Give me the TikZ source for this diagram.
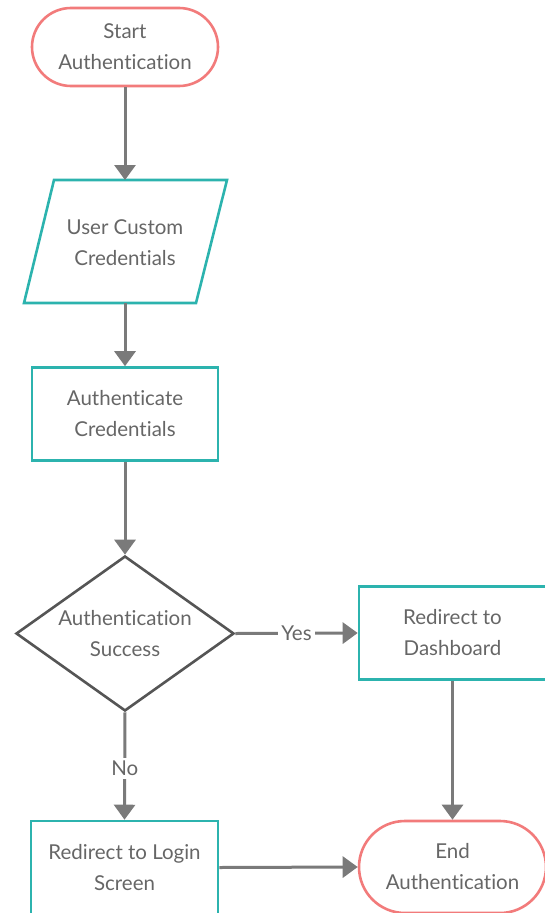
\documentclass[tikz,border=0pt]{standalone}
\usepackage{fontspec}
\setmainfont{Lato}[Ligatures=NoCommon]
\usetikzlibrary{shapes.geometric,arrows.meta}
\definecolor{termred}{HTML}{F27B7B}
\definecolor{procteal}{HTML}{2CB3AE}
\definecolor{flowgray}{HTML}{7A7A7A}
\definecolor{decgray}{HTML}{555555}
\definecolor{txtgray}{HTML}{666666}
\tikzset{
  base/.style={inner sep=0pt, align=center, text=txtgray,
    font=\fontsize{20.5}{31}\selectfont, line width=2.6pt},
  terminal/.style={base, draw=termred, rounded corners=39pt,
    minimum width=186pt, minimum height=78pt},
  process/.style={base, draw=procteal, minimum width=186pt, minimum height=93pt},
  decision/.style={base, draw=decgray, diamond, aspect=1.4,
    minimum width=218pt, minimum height=155pt},
  flow/.style={draw=flowgray, line width=3pt,
    -{Triangle[width=21pt,length=15pt]}},
  flowlabel/.style={fill=white, text=txtgray, inner sep=3pt,
    font=\fontsize{20.5}{24}\selectfont},
}
\begin{document}
\begin{tikzpicture}[x=1pt,y=-1pt]
\useasboundingbox (0,0) rectangle (544,913);

% nodes
\node[terminal] (start) at (125,47) {Start\\Authentication};
\node[base, minimum width=1pt] (input) at (125,242.5) {User Custom\\Credentials};
\draw[draw=procteal, line width=2.6pt, line join=miter]
  (54,180) -- (227,180) -- (196,303) -- (24,303) -- cycle;
\coordinate (inTop) at (125,180);
\coordinate (inBot) at (125,303);
\node[process] (auth) at (125,414) {Authenticate\\Credentials};
\node[decision] (check) at (125,633.5) {Authentication\\Success};
\node[process, minimum width=187pt] (dash) at (452.5,633) {Redirect to\\Dashboard};
\node[process, minimum width=187pt] (login) at (124.5,867.5) {Redirect to Login\\Screen};
\node[terminal, minimum width=187pt, minimum height=92pt, rounded corners=46pt]
  (end) at (452.5,867) {End\\Authentication};

% connectors
\draw[flow] (start.south) -- (inTop);
\draw[flow] (inBot) -- (auth.north);
\draw[flow] (auth.south) -- (check.north);
\draw[flow] (check.east) -- node[flowlabel] {Yes} (dash.west);
\draw[flow] (check.south) -- node[flowlabel, pos=0.52] {No} (login.north);
\draw[flow] (dash.south) -- (end.north);
\draw[flow] (login.east) -- (end.west);
\end{tikzpicture}
\end{document}
